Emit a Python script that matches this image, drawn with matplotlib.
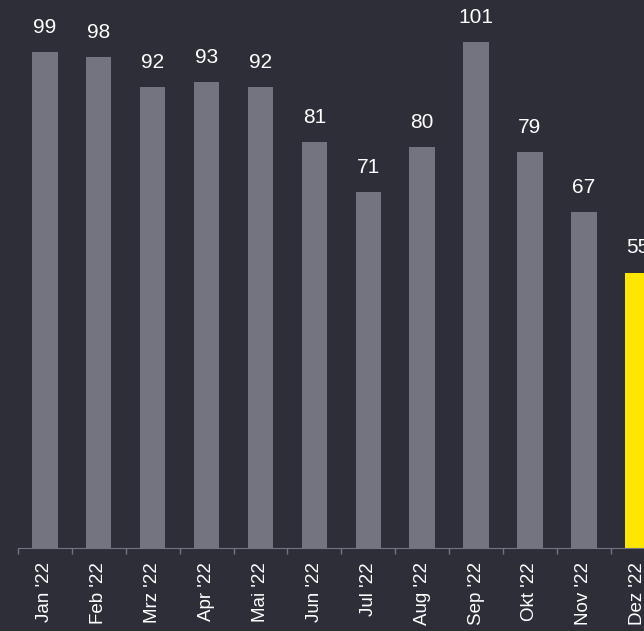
import matplotlib
matplotlib.use("Agg")
import matplotlib.pyplot as plt
import numpy as np

plt.rcParams['font.family'] = ['Liberation Sans', 'DejaVu Sans']

months = ["Jan '22", "Feb '22", "Mrz '22", "Apr '22", "Mai '22", "Jun '22",
          "Jul '22", "Aug '22", "Sep '22", "Okt '22", "Nov '22", "Dez '22"]
values = [99, 98, 92, 93, 92, 81, 71, 80, 101, 79, 67, 55]

bg = '#2e2e38'
grey = '#747480'
yellow = '#ffe600'

colors = [grey] * (len(values) - 1) + [yellow]

fig = plt.figure(figsize=(6.44, 6.31), dpi=100, facecolor=bg)
ax = fig.add_axes([0.0278, 0.1315, 0.9722, 0.8685])
ax.set_facecolor(bg)

x = np.arange(len(values))
bars = ax.bar(x, values, width=0.47, color=colors)

for xi, v in zip(x, values):
    ax.annotate(str(v), (xi, v), xytext=(0, 11), textcoords='offset points',
                ha='center', va='bottom', color='white', fontsize=15)

ax.set_xlim(-0.5, 11.116)
ax.set_ylim(0, 109.4)

# ticks at category boundaries, labels centred on bars
ax.set_xticks(np.arange(-0.5, 11.5, 1.0))
ax.set_xticklabels([])
ax.set_xticks(x, minor=True)
ax.set_xticklabels(months, minor=True, rotation=90, color='white', fontsize=13.5)
ax.tick_params(axis='x', which='major', length=4, color=grey, width=1)
ax.tick_params(axis='x', which='minor', length=0, pad=10)
ax.set_yticks([])

for s in ['top', 'right', 'left']:
    ax.spines[s].set_visible(False)
ax.spines['bottom'].set_color(grey)

fig.savefig('out.png', dpi=100, facecolor=bg)
